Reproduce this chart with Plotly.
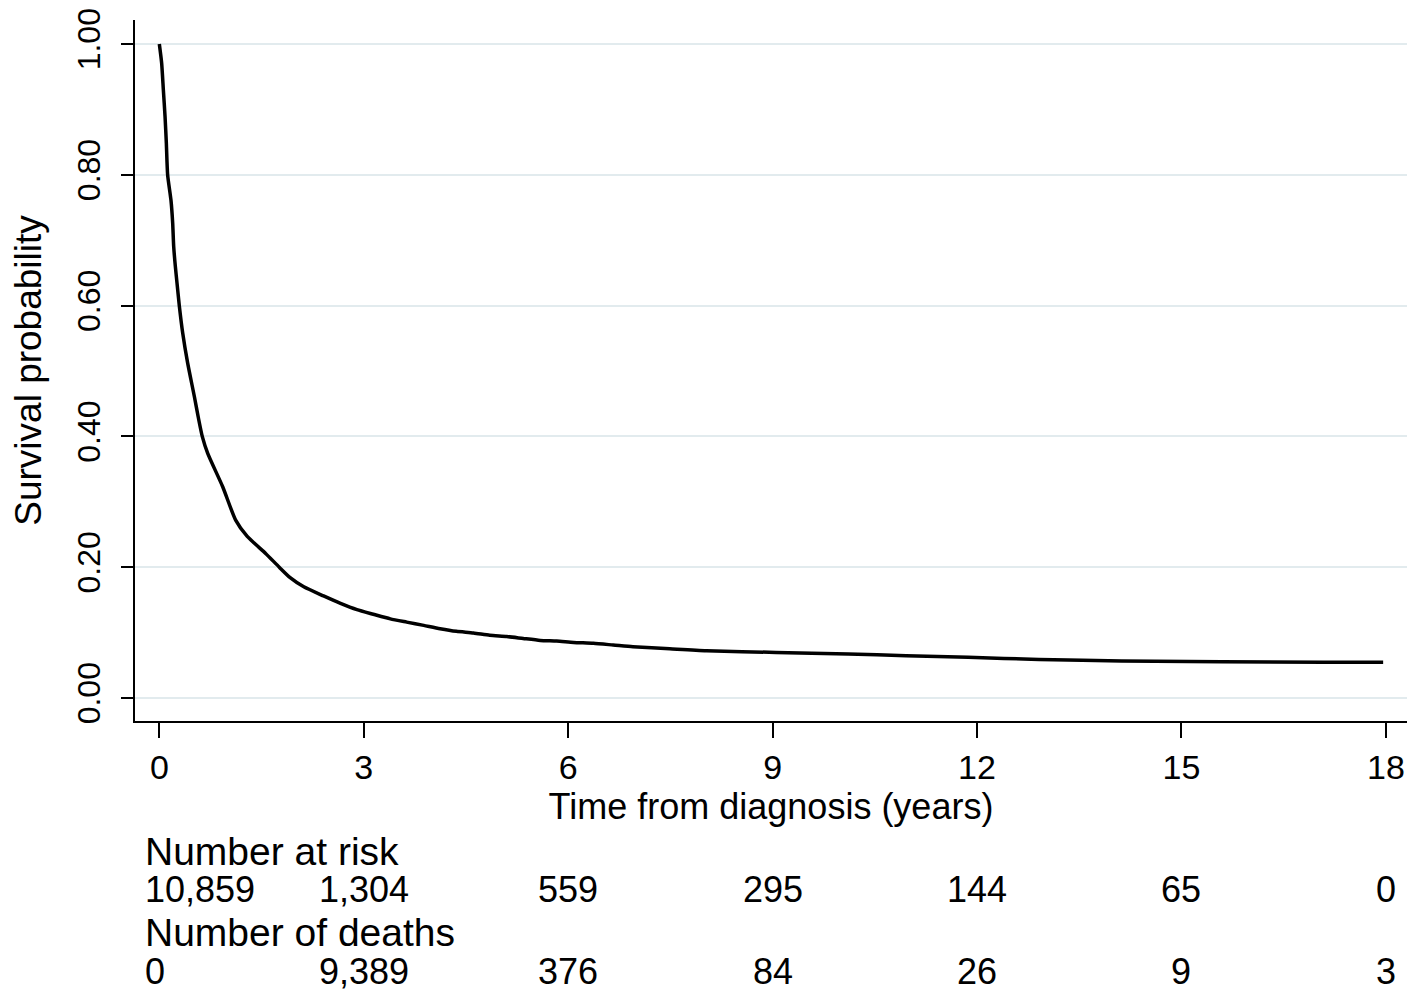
import plotly.graph_objects as go

# Kaplan-Meier estimate (years, survival probability)
time_years = [0, 0.034, 0.059, 0.084, 0.103, 0.122, 0.171, 0.196, 0.211, 0.235,
              0.260, 0.293, 0.343, 0.416, 0.514, 0.57, 0.63, 0.71, 0.93, 1.12,
              1.29, 1.56, 1.76, 1.92, 2.12, 2.41, 2.65, 2.90, 3.14, 3.39,
              3.63, 3.88, 4.12, 4.36, 4.61, 4.85, 5.10, 5.34, 5.59, 5.83,
              6.08, 6.37, 6.66, 6.95, 7.49, 8.03, 9.05, 10.11, 10.96, 11.87,
              12.91, 14.12, 17.08, 17.96]
survival = [1.000, 0.971, 0.930, 0.889, 0.848, 0.800, 0.761, 0.726, 0.690, 0.660,
            0.634, 0.600, 0.558, 0.512, 0.461, 0.430, 0.400, 0.374, 0.323, 0.272,
            0.247, 0.221, 0.200, 0.184, 0.170, 0.156, 0.145, 0.135, 0.128, 0.121,
            0.116, 0.111, 0.106, 0.102, 0.0995, 0.096, 0.094, 0.091, 0.088, 0.087,
            0.085, 0.0835, 0.081, 0.0784, 0.0753, 0.0723, 0.0697, 0.0672, 0.0646, 0.0621,
            0.059, 0.0565, 0.0545, 0.0545]

# risk table
table_times = [0, 3, 6, 9, 12, 15, 18]
number_at_risk = [10859, 1304, 559, 295, 144, 65, 0]
number_of_deaths = [0, 9389, 376, 84, 26, 9, 3]

y_ticks = [0, 0.2, 0.4, 0.6, 0.8, 1.0]
font = "Liberation Sans, Arial, sans-serif"

fig = go.Figure()
fig.add_trace(go.Scatter(x=time_years, y=survival, mode="lines",
                         line=dict(color="black", width=3.5, shape="spline", smoothing=0.6),
                         showlegend=False, hoverinfo="skip"))

# rows of the table under the x axis
row_y = [-0.1855, -0.241, -0.301, -0.358]
label_font = dict(family=font, size=39, color="black")
num_font = dict(family=font, size=36, color="black")
fig.add_annotation(text="Number at risk", x=-0.24, y=row_y[0], xanchor="left", font=label_font)
fig.add_annotation(text="Number of deaths", x=-0.24, y=row_y[2], xanchor="left", font=label_font)
for i, t in enumerate(table_times):
    anchor = "left" if i == 0 else "center"
    xpos = -0.24 if i == 0 else t
    fig.add_annotation(text=f"{number_at_risk[i]:,}", x=xpos, y=row_y[1],
                       xanchor=anchor, font=num_font)
    fig.add_annotation(text=f"{number_of_deaths[i]:,}", x=xpos, y=row_y[3],
                       xanchor=anchor, font=num_font)
fig.update_annotations(xref="x", yref="paper", showarrow=False, yanchor="middle")

# page body adds an 8px offset, so the figure is 8px smaller
fig.update_layout(
    width=1409, height=991,
    margin=dict(l=127, r=10, t=12, b=278),
    paper_bgcolor="white", plot_bgcolor="white",
    font=dict(family=font, color="black"),
)
fig.update_xaxes(
    range=[-0.357, 18.31], tickvals=table_times, automargin=False,
    showline=True, linecolor="black", linewidth=2,
    ticks="outside", ticklen=15, tickwidth=2, tickcolor="black",
    tickfont=dict(size=34), ticklabelstandoff=0,
    showgrid=False, zeroline=False,
    title=dict(text="Time from diagnosis (years)", font=dict(size=36), standoff=0),
)
fig.update_yaxes(
    range=[-0.0352, 1.0367], tickvals=y_ticks, tickformat=".2f", tickangle=-90,
    automargin=False,
    showline=True, linecolor="black", linewidth=2,
    ticks="outside", ticklen=12, tickwidth=2, tickcolor="black",
    tickfont=dict(size=32), ticklabelstandoff=8,
    showgrid=True, gridcolor="#e2ebee", gridwidth=2, zeroline=False,
    title=dict(text="Survival probability", font=dict(size=37), standoff=24),
)

fig.write_html("out.html")
